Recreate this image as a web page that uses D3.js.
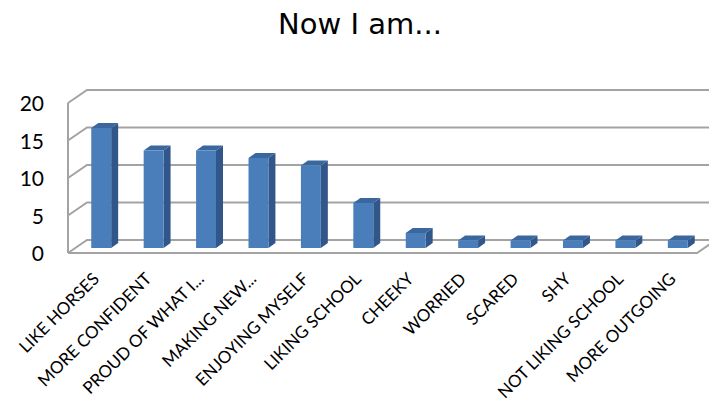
<!DOCTYPE html>
<html>
<head>
<meta charset="utf-8">
<script src="https://cdn.jsdelivr.net/npm/d3@7"></script>
<style>
  body { margin: 0; background: #fff; }
  svg { display: block; }
</style>
</head>
<body>
<div class="board"></div>
<script>
(function() {

  var categories = ['LIKE HORSES', 'MORE CONFIDENT', 'PROUD OF WHAT I...', 'MAKING NEW...',
    'ENJOYING MYSELF', 'LIKING SCHOOL', 'CHEEKY', 'WORRIED', 'SCARED', 'SHY',
    'NOT LIKING SCHOOL', 'MORE OUTGOING'];
  var values = [16, 13, 13, 12, 11, 6, 2, 1, 1, 1, 1, 1];
  var yTicks = [0, 5, 10, 15, 20];
  var title = 'Now I am...';

  var options = { width: 709, height: 405 };

  // full depth of the 3d box, and where the bar sits inside it
  var depth = { dx: 19, dy: -13 };
  var barFront = { dx: 7, dy: -5 };
  var barDepth = { dx: 7, dy: -5 };

  var board = d3.select('.board')
    .append('svg')
    .attr('width', options.width)
    .attr('height', options.height);

  var x = d3.scaleBand()
    .domain(categories)
    .range([68, 697]);

  var y = d3.scaleLinear()
    .domain([0, 20])
    .range([253, 103]);

  var gridColor = '#a3a3a3';

  // title
  board.append('text')
    .attr('x', 360)
    .attr('y', 34)
    .text(title)
    .style('font-family', 'DejaVu Sans')
    .style('font-size', '29px')
    .style('fill', '#000')
    .style('text-anchor', 'middle');

  var xl = x.range()[0], xr = x.range()[1];

  // gridlines: side wall diagonal + back wall horizontal
  var grid = board.append('g');
  grid.selectAll('path.grid')
    .data(yTicks)
    .enter()
    .append('path')
    .attr('d', function(d) {
      var yf = y(d);
      return 'M' + xl + ',' + yf +
        'L' + (xl + depth.dx) + ',' + (yf + depth.dy) +
        'L' + (xr + depth.dx) + ',' + (yf + depth.dy);
    })
    .style('fill', 'none')
    .style('stroke', gridColor)
    .style('stroke-width', 2);

  // side wall front edge
  grid.append('line')
    .attr('x1', xl).attr('y1', y(0))
    .attr('x2', xl).attr('y2', y(20))
    .style('stroke', gridColor)
    .style('stroke-width', 2);

  // floor outline
  grid.append('path')
    .attr('d', 'M' + xl + ',' + y(0) + 'L' + xr + ',' + y(0) +
      'L' + (xr + depth.dx) + ',' + (y(0) + depth.dy))
    .style('fill', 'none')
    .style('stroke', gridColor)
    .style('stroke-width', 2);

  // bars
  var bw = x.bandwidth() * 0.38;
  var bars = board.selectAll('g.bar')
    .data(values)
    .enter()
    .append('g')
    .attr('class', 'bar');

  function bx(d, i) { return x(categories[i]) + (x.bandwidth() - bw) / 2 + barFront.dx; }
  function by0() { return y(0) + barFront.dy; }
  function byTop(d) { return y(d) + barFront.dy; }

  // side face
  bars.append('path')
    .attr('d', function(d, i) {
      var x1 = bx(d, i) + bw, yb = by0(), yt = byTop(d);
      return 'M' + x1 + ',' + yb + 'L' + x1 + ',' + yt +
        'L' + (x1 + barDepth.dx) + ',' + (yt + barDepth.dy) +
        'L' + (x1 + barDepth.dx) + ',' + (yb + barDepth.dy) + 'Z';
    })
    .style('fill', '#30568a');

  // top face
  bars.append('path')
    .attr('d', function(d, i) {
      var x0 = bx(d, i), yt = byTop(d);
      return 'M' + x0 + ',' + yt + 'L' + (x0 + bw) + ',' + yt +
        'L' + (x0 + bw + barDepth.dx) + ',' + (yt + barDepth.dy) +
        'L' + (x0 + barDepth.dx) + ',' + (yt + barDepth.dy) + 'Z';
    })
    .style('fill', '#3b679f');

  // front face
  bars.append('rect')
    .attr('x', function(d, i) { return bx(d, i); })
    .attr('y', function(d) { return byTop(d); })
    .attr('width', bw)
    .attr('height', function(d) { return by0() - byTop(d); })
    .style('fill', '#4a7ebb');

  // y tick labels
  board.selectAll('text.ytick')
    .data(yTicks)
    .enter()
    .append('text')
    .attr('class', 'ytick')
    .attr('x', 44)
    .attr('y', function(d) { return y(d) + 8; })
    .text(function(d) { return d; })
    .style('font-family', 'Lato')
    .style('font-size', '21px')
    .style('fill', '#000')
    .style('text-anchor', 'end');

  // category labels
  board.selectAll('text.xtick')
    .data(categories)
    .enter()
    .append('text')
    .attr('class', 'xtick')
    .attr('transform', function(d) {
      var cx = x(d) + x.bandwidth() / 2 + 7;
      return 'translate(' + (cx - 1) + ',' + 280 + ') rotate(-45)';
    })
    .text(function(d) { return d; })
    .style('font-family', 'Lato')
    .style('font-size', '17px')
    .style('fill', '#000')
    .style('text-anchor', 'end');

})();
</script>
</body>
</html>
